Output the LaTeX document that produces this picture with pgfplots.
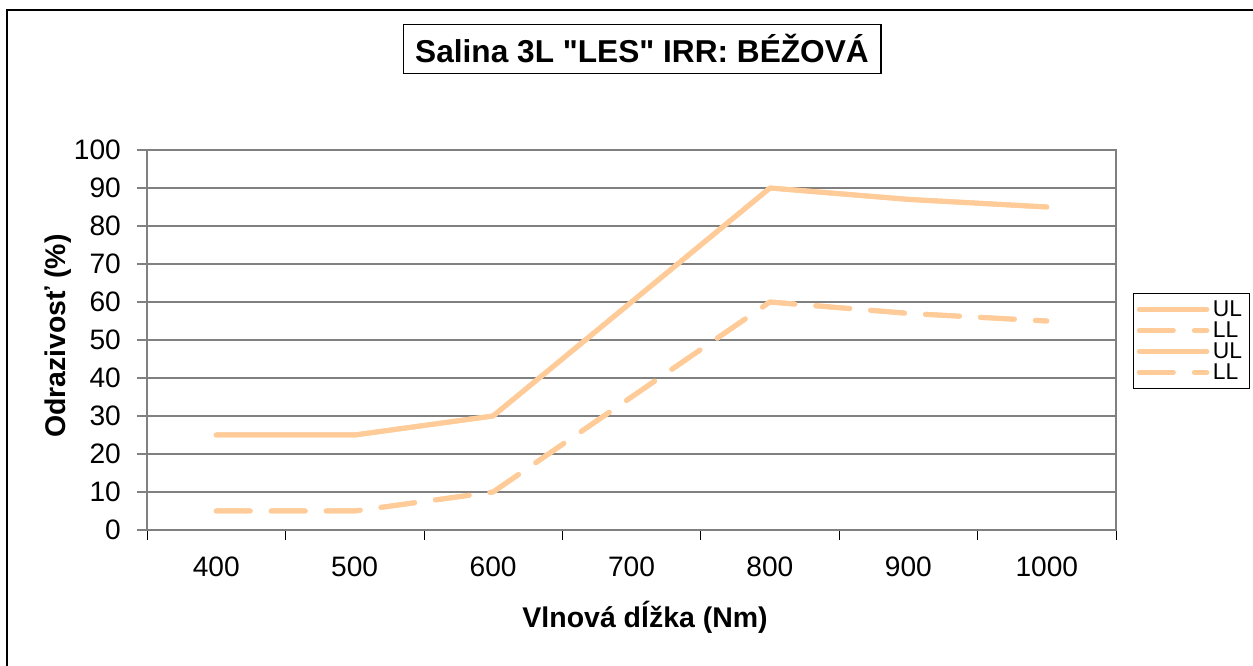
\documentclass[border=0pt]{standalone}
\usepackage{pgfplots}
\pgfplotsset{compat=1.18}
\usepackage{fontspec}
\setmainfont{Liberation Sans}
\definecolor{tanline}{HTML}{FFCC99}
\definecolor{gridgray}{HTML}{808080}

\begin{document}
\begin{tikzpicture}
\path[use as bounding box] (0,0) rectangle (25.06cm,13.32cm);
\draw[black,line width=0.6pt] (0.14cm,0) -- (0.14cm,13.12cm) -- (25.06cm,13.12cm);
\begin{axis}[
  at={(2.94cm,2.72cm)}, anchor=south west,
  scale only axis, width=19.38cm, height=7.6cm,
  xmin=-0.5, xmax=6.5, ymin=0, ymax=100,
  xtick={0,1,2,3,4,5,6},
  xticklabels={400,500,600,700,800,900,1000},
  major x tick style={draw=none},
  minor xtick={-0.5,0.5,1.5,2.5,3.5,4.5,5.5,6.5},
  minor x tick style={black, thin},
  ytick={0,10,...,100},
  tick align=outside, major tick length=0.2cm, minor tick length=0.2cm,
  xtick pos=bottom, ytick pos=left,
  ymajorgrids, grid style={gridgray, line width=0.7pt},
  axis line style={gridgray, line width=0.9pt},
  y tick style={gridgray, line width=0.8pt},
  /pgf/number format/assume math mode=true,
  tick label style={font=\fontsize{16}{19}\selectfont},
  xticklabel style={yshift=-0.22cm},
  yticklabel style={xshift=-0.2cm},
  xlabel={Vlnová dĺžka (Nm)},
  ylabel={Odrazivosť (\%)},
  label style={font=\fontsize{16.2}{19}\selectfont\bfseries},
  xlabel style={at={(axis description cs:0.514,-0.229)}, anchor=center},
  ylabel style={at={(axis description cs:-0.092,0.51)}, anchor=center, rotate=0},
  legend style={at={(1.0175,0.6237)}, anchor=north west, draw=black,
    font=\fontsize{13}{15}\selectfont, row sep=-2.5pt, inner sep=2pt,
    cells={anchor=west}},
  legend image code/.code={\draw[#1] (0cm,0cm) -- (1.35cm,0cm);},
  clip=false,
]
\addplot[tanline, line width=1mm, line cap=round, line join=round] coordinates {
  (0,25) (1,25) (2,30) (3,60) (4,90) (5,87) (6,85)};
\addlegendentry{UL}
\addplot[tanline, line width=1mm, line cap=round, line join=round,
  dash pattern=on 0.68cm off 0.42cm] coordinates {
  (0,5) (1,5) (2,10) (3,35) (4,60) (5,57) (6,55)};
\addlegendentry{LL}
\addplot[tanline, line width=1mm, line cap=round, line join=round] coordinates {
  (0,25) (1,25) (2,30) (3,60) (4,90) (5,87) (6,85)};
\addlegendentry{UL}
\addplot[tanline, line width=1mm, line cap=round, line join=round,
  dash pattern=on 0.68cm off 0.42cm] coordinates {
  (0,5) (1,5) (2,10) (3,35) (4,60) (5,57) (6,55)};
\addlegendentry{LL}
\draw[gridgray, line width=0.7pt] (rel axis cs:1,0) -- (rel axis cs:1,1);
\end{axis}
\node[draw=black, fill=white, line width=0.8pt, inner xsep=0.24cm, inner ysep=0.2cm,
  font=\fontsize{18}{22}\selectfont\bfseries] at (12.84cm,12.34cm)
  {Salina 3L \textquotedbl LES\textquotedbl{} IRR: BÉŽOVÁ};
\end{tikzpicture}
\end{document}
